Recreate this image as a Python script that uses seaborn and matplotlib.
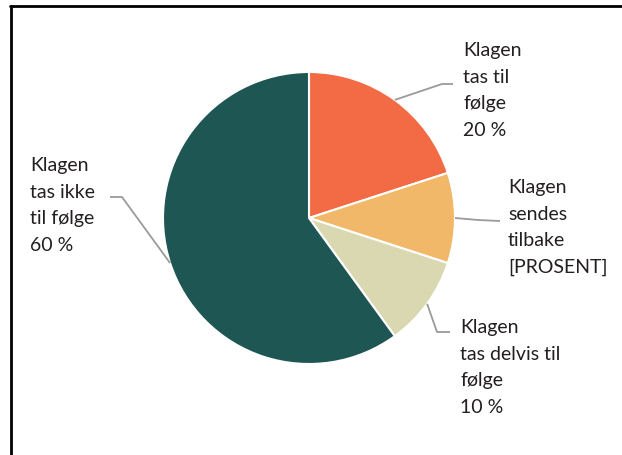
import numpy as np
import matplotlib
matplotlib.use("Agg")
import matplotlib.pyplot as plt
from matplotlib.lines import Line2D
import seaborn as sns

# data
labels = ["Klagen\ntas til\nfølge\n20 %",
          "Klagen\nsendes\ntilbake\n[PROSENT]",
          "Klagen\ntas delvis til\nfølge\n10 %",
          "Klagen\ntas ikke\ntil følge\n60 %"]
shares = [20, 10, 10, 60]
colors = ["#F26B45", "#F2B86A", "#D9D8B1", "#1E5653"]

sns.set_theme(style="white")
plt.rcParams['font.family'] = ['Lato', 'DejaVu Sans']

W, H = 622, 456
fig = plt.figure(figsize=(W / 100, H / 100), dpi=100)
ax = fig.add_axes([0, 0, 1, 1])

cx, cy, r = 309, H - 219, 146
wedges, _ = ax.pie(shares, colors=colors, startangle=90, counterclock=False,
                   center=(cx, cy), radius=r, frame=True,
                   wedgeprops=dict(edgecolor="white", linewidth=1.5))
ax.set_xlim(0, W)
ax.set_ylim(0, H)
ax.axis("off")

# leader line elbows/ends and label anchors (pixels from top-left)
layout = [
    dict(elbow=(442, 85), end=(453, 85), text=(463, 42)),
    dict(elbow=(478, 221), end=(500, 222), text=(508, 179)),
    dict(elbow=(437, 333), end=(450, 333), text=(460, 319)),
    dict(elbow=(122, 198), end=(110, 198), text=(30, 157)),
]

for w, lab, lay in zip(wedges, labels, layout):
    ang = np.deg2rad((w.theta1 + w.theta2) / 2)
    x0 = cx + r * np.cos(ang)
    y0 = cy + r * np.sin(ang)
    xs = [x0, lay["elbow"][0], lay["end"][0]]
    ys = [y0, H - lay["elbow"][1], H - lay["end"][1]]
    ax.plot(xs, ys, color="#9A9A9A", linewidth=1.3, solid_capstyle="butt")
    ax.text(lay["text"][0], H - lay["text"][1], lab, fontsize=14,
            color="#231F20", ha="left", va="top", linespacing=1.68)

# frame (top and left edges visible)
fig.add_artist(Line2D([10 / W, 1], [1 - 7 / H, 1 - 7 / H], color="black",
                      linewidth=2, transform=fig.transFigure))
fig.add_artist(Line2D([11 / W, 11 / W], [0, 1 - 7 / H], color="black",
                      linewidth=2, transform=fig.transFigure))

fig.savefig("out.png", dpi=100, facecolor="white")
